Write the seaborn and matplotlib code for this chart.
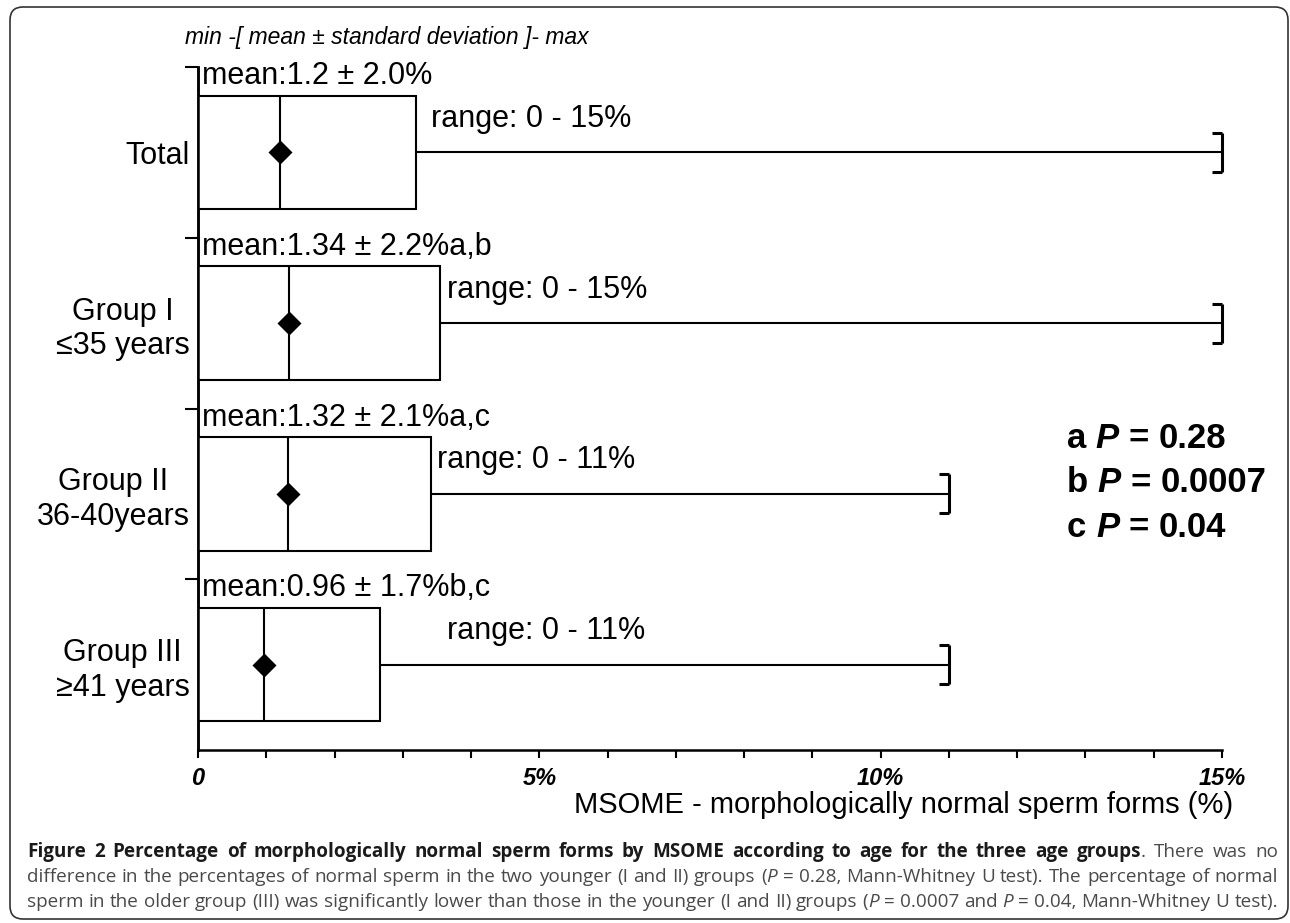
import matplotlib
matplotlib.use('Agg')
import matplotlib.pyplot as plt
import seaborn as sns
import numpy as np
import pandas as pd
from matplotlib.patches import FancyBboxPatch
from matplotlib.transforms import IdentityTransform

# values
groups = ['Total', 'Group I\n≤35 years', 'Group II\n36-40years', 'Group III\n≥41 years']
means = [1.2, 1.34, 1.32, 0.96]
sds = [2.0, 2.2, 2.1, 1.7]
mins = [0, 0, 0, 0]
maxs = [15, 15, 11, 11]
sig = ['', 'a,b', 'a,c', 'b,c']
p_letters = ['a', 'b', 'c']
p_values = ['0.28', '0.0007', '0.04']
x_major = [0, 5, 10, 15]
x_major_labels = ['0', '5%', '10%', '15%']

W, H = 1290, 923

sns.set_theme(style='ticks')
plt.rcParams['font.family'] = ['Liberation Sans', 'DejaVu Sans']
plt.rcParams['text.color'] = 'black'
plt.rcParams['axes.labelcolor'] = 'black'
plt.rcParams['axes.edgecolor'] = 'black'
plt.rcParams['xtick.color'] = 'black'
plt.rcParams['ytick.color'] = 'black'

df = pd.DataFrame({'group': groups, 'mean': means, 'sd': sds,
                   'lo': mins, 'hi': maxs})
df['upper'] = df['mean'] + df['sd']
pos = np.arange(len(df))

fig = plt.figure(figsize=(W / 100, H / 100), dpi=100)
ax = fig.add_axes([198 / W, 1 - 750 / H, 1024 / W, 683 / H])

# boxes: from min to mean + sd
sns.barplot(data=df, x='upper', y='group', orient='h', width=0.666,
            color='white', edgecolor='black', linewidth=1.5, errorbar=None,
            ax=ax, zorder=2)
for p in ax.patches:
    p.set_facecolor('white')

# mean line inside the box
ax.vlines(df['mean'], pos - 0.333, pos + 0.333, color='black', lw=1.5, zorder=3)
# whisker to max
ax.hlines(pos, df['upper'], df['hi'], color='black', lw=1.5, zorder=3)
ax.vlines(df['hi'], pos - 0.114, pos + 0.114, color='black', lw=2.2,
          zorder=3, clip_on=False)
ax.hlines(pos - 0.114, df['hi'] - 0.15, df['hi'], color='black', lw=2.2, clip_on=False)
ax.hlines(pos + 0.114, df['hi'] - 0.15, df['hi'], color='black', lw=2.2, clip_on=False)

# mean diamonds
sns.scatterplot(x=df['mean'].values, y=pos, marker='D', s=150, color='black',
                linewidth=0, ax=ax, zorder=4)

# annotations
range_x = [3.42, 3.65, 3.5, 3.65]
for i, row in df.iterrows():
    ax.text(0.06, i - 0.4, f"mean:{row['mean']} ± {row['sd']:.1f}%{sig[i]}",
            fontsize=22, va='baseline', ha='left')
    ax.text(range_x[i], i - 0.15, f"range: {row['lo']} - {row['hi']}%",
            fontsize=22, va='baseline', ha='left')

ax.set_xlim(0, 15)
ax.set_ylim(3.5, -0.5)
ax.spines['top'].set_visible(False)
ax.spines['right'].set_visible(False)
ax.spines['left'].set_linewidth(1.8)
ax.spines['bottom'].set_linewidth(1.8)

ax.set_xticks(x_major)
ax.set_xticklabels(x_major_labels, fontsize=17, fontweight='bold', style='italic')
ax.set_xticks(np.arange(0, 16, 1), minor=True)
ax.tick_params(axis='x', which='both', direction='out', length=6, width=1.5,
               pad=6, color='black')

ax.set_yticks(pos)
ax.set_yticklabels(groups, fontsize=22)
for lbl in ax.get_yticklabels():
    lbl.set_multialignment('center')
ax.set_yticks(np.concatenate([pos - 0.114, pos + 0.114]), minor=True)
ax.tick_params(axis='y', which='major', length=0, pad=6)
ax.tick_params(axis='y', which='minor', direction='in', length=7, width=1.5,
               color='black')

sec = ax.secondary_yaxis('left')
sec.set_yticks(pos - 0.5)
sec.set_yticklabels([])
sec.tick_params(direction='out', length=9.5, width=1.5, color='black')
sec.spines['left'].set_linewidth(1.8)

ax.set_xlabel('MSOME - morphologically normal sperm forms (%)', fontsize=21)
ax.xaxis.set_label_coords(0.689, -0.0805)
ax.xaxis.label.set_va('center')
ax.set_ylabel('')

ax.text(-0.0127, 1.0337, 'min -[ mean ± standard deviation ]- max',
        transform=ax.transAxes, fontsize=16.5, style='italic', va='baseline')

renderer = fig.canvas.get_renderer()


def split_words(parts):
    words = [[]]
    for txt, st in parts:
        pieces = txt.split(' ')
        for k, pc in enumerate(pieces):
            if k > 0:
                words.append([])
            if pc:
                words[-1].append((pc, st))
    return [w for w in words if w]


def space_width(size, family):
    sp = fig.text(0, 0, 'a a', fontsize=size, family=family)
    sa = fig.text(0, 0, 'aa', fontsize=size, family=family)
    d = sp.get_window_extent(renderer=renderer).width - \
        sa.get_window_extent(renderer=renderer).width
    sp.remove()
    sa.remove()
    return d


def natural_width(parts, size, family, styles):
    words = split_words(parts)
    total = 0
    for w in words:
        for pc, st in w:
            t = fig.text(0, 0, pc, fontsize=size, family=family, **styles[st])
            total += t.get_window_extent(renderer=renderer).width
            t.remove()
    return total + space_width(size, family) * (len(words) - 1)


def seg_text(parts, x0, y_top, size, family, styles, x1=None):
    # lay out words left to right, optionally justified between x0 and x1
    words = split_words(parts)
    items = []
    total = 0
    for w in words:
        row = []
        ww = 0
        for pc, st in w:
            t = fig.text(0, 0, pc, transform=IdentityTransform(), fontsize=size,
                         family=family, va='baseline', **styles[st])
            bw = t.get_window_extent(renderer=renderer).width
            row.append((t, bw))
            ww += bw
        items.append((row, ww))
        total += ww
    if x1 is not None and len(items) > 1:
        gap = (x1 - x0 - total) / (len(items) - 1)
    else:
        gap = space_width(size, family)
    x = x0
    for row, ww in items:
        for t, bw in row:
            t.set_position((x, H - y_top))
            x += bw
        x += gap


# p-values legend
pstyles = {'b': dict(fontweight='bold', color='black'),
           'bi': dict(fontweight='bold', style='italic', color='black')}
for k, (let, pv) in enumerate(zip(p_letters, p_values)):
    seg_text([(let + ' ', 'b'), ('P', 'bi'), (' = ' + pv, 'b')],
             1067, 448 + 44.5 * k, 25, ['Liberation Sans', 'DejaVu Sans'], pstyles)

# caption
cap_family = ['Open Sans', 'DejaVu Sans']
cstyles = {'b': dict(fontweight='bold', color='#1a1a1a'),
           'n': dict(color='#4a4a4a'),
           'i': dict(style='italic', color='#4a4a4a')}
cap_lines = [
    [('Figure 2 Percentage of morphologically normal sperm forms by MSOME according to age for the three age groups', 'b'),
     ('. There was no', 'n')],
    [('difference in the percentages of normal sperm in the two younger (I and II) groups (', 'n'),
     ('P', 'i'), (' = 0.28, Mann-Whitney U test). The percentage of normal', 'n')],
    [('sperm in the older group (III) was significantly lower than those in the younger (I and II) groups (', 'n'),
     ('P', 'i'), (' = 0.0007 and ', 'n'), ('P', 'i'), (' = 0.04, Mann-Whitney U test).', 'n')],
]
widest = max(natural_width(l, 12, cap_family, cstyles) for l in cap_lines)
cap_size = 12 * (1278 - 27) / widest * 0.995
for k, line in enumerate(cap_lines):
    seg_text(line, 27, 857 + 25 * k, cap_size, cap_family, cstyles, x1=1278)

# rounded frame around the figure
frame = FancyBboxPatch((10, 4), 1278, 912, boxstyle='round,pad=0,rounding_size=13',
                       transform=IdentityTransform(), fill=False,
                       edgecolor='#333333', linewidth=1.2)
fig.add_artist(frame)

fig.savefig('out.png', dpi=100)
